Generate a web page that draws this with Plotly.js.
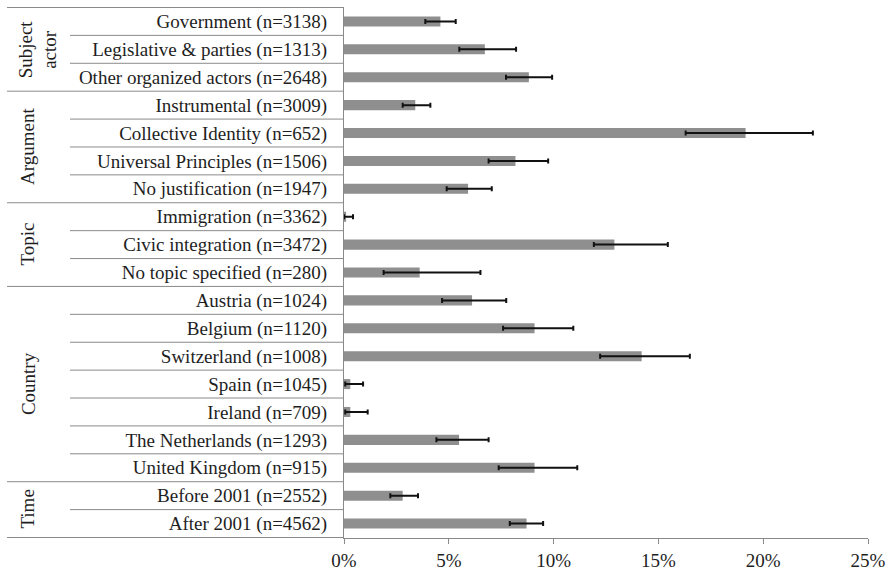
<!DOCTYPE html>
<html>
<head>
<meta charset="utf-8">
<script src="https://cdn.plot.ly/plotly-3.0.1.min.js"></script>
<style>html,body{margin:0;padding:0;background:#fff;}#chart{width:889px;height:573px;}</style>
</head>
<body>
<div id="chart"></div>
<script>
// ---- data ----
const categories = [
  "Government (n=3138)",
  "Legislative & parties (n=1313)",
  "Other organized actors (n=2648)",
  "Instrumental (n=3009)",
  "Collective Identity (n=652)",
  "Universal Principles (n=1506)",
  "No justification (n=1947)",
  "Immigration (n=3362)",
  "Civic integration (n=3472)",
  "No topic specified (n=280)",
  "Austria (n=1024)",
  "Belgium (n=1120)",
  "Switzerland (n=1008)",
  "Spain (n=1045)",
  "Ireland (n=709)",
  "The Netherlands (n=1293)",
  "United Kingdom (n=915)",
  "Before 2001 (n=2552)",
  "After 2001 (n=4562)"
];
const values = [4.6, 6.72, 8.82, 3.40, 19.16, 8.18, 5.92, 0.10, 12.90, 3.61, 6.11, 9.09, 14.20, 0.30, 0.30, 5.49, 9.09, 2.80, 8.71];
const ciLow  = [3.88, 5.50, 7.73, 2.80, 16.30, 6.90, 4.90, 0.00, 11.92, 1.89, 4.68, 7.59, 12.22, 0.06, 0.06, 4.41, 7.38, 2.21, 7.91];
const ciHigh = [5.33, 8.21, 9.93, 4.12, 22.37, 9.74, 7.05, 0.43, 15.45, 6.51, 7.74, 10.94, 16.50, 0.91, 1.13, 6.90, 11.13, 3.53, 9.50];
const groupNames = ["Subject<br>actor", "Argument", "Topic", "Country", "Time"];
const groupSizes = [3, 4, 3, 7, 2];
const tickVals = [0, 5, 10, 15, 20, 25];
const tickText = ["0%", "5%", "10%", "15%", "20%", "25%"];

// ---- layout helpers ----
const W = 889, H = 573;
const mL = 344, mR = 21, mT = 7, mB = 35;
const plotW = W - mL - mR;
const px2paper = p => (p - mL) / plotW;
const lineColor = "#8a8a8a";
const fontFam = "Liberation Serif, Times New Roman, serif";
const textColor = "#1e1e1e";

const errPlus = values.map((v, i) => ciHigh[i] - v);
const errMinus = values.map((v, i) => v - ciLow[i]);

const trace = {
  type: "bar",
  orientation: "h",
  x: values,
  y: categories,
  marker: {color: "#8f8f8f", line: {width: 0}},
  error_x: {
    type: "data", symmetric: false,
    array: errPlus, arrayminus: errMinus,
    color: "#111", thickness: 2, width: 2.5
  },
  hoverinfo: "skip"
};

// table lines
const shapes = [];
const n = categories.length;
const fullX0 = px2paper(7), innerX0 = px2paper(70);
let starts = new Set([0]);
let acc = 0;
groupSizes.forEach(s => { acc += s; starts.add(acc); });
for (let b = 0; b <= n; b++) {
  const isGroup = starts.has(b);
  shapes.push({
    type: "line", xref: "paper", yref: "y",
    x0: isGroup ? fullX0 : innerX0, x1: 0,
    y0: b - 0.5, y1: b - 0.5,
    line: {color: lineColor, width: 1}
  });
}

// group labels
const annotations = [];
acc = 0;
groupNames.forEach((g, k) => {
  const center = acc + groupSizes[k] / 2 - 0.5;
  acc += groupSizes[k];
  annotations.push({
    text: g, xref: "paper", yref: "y",
    x: px2paper(g.includes("<br>") ? 38 : 28), y: center,
    textangle: -90, showarrow: false,
    xanchor: "center", yanchor: "middle",
    font: {family: fontFam, size: 19, color: textColor}
  });
});

const layout = {
  width: W, height: H,
  margin: {l: mL, r: mR, t: mT, b: mB},
  paper_bgcolor: "#fff", plot_bgcolor: "#fff",
  showlegend: false,
  bargap: 0.64,
  font: {family: fontFam, size: 19, color: textColor},
  xaxis: {
    range: [0, 25], tickvals: tickVals, ticktext: tickText,
    showgrid: false, zeroline: false,
    showline: true, linecolor: lineColor, linewidth: 1,
    ticks: "outside", ticklen: 5, tickcolor: lineColor,
    tickfont: {family: fontFam, size: 19, color: textColor}
  },
  yaxis: {
    type: "category", autorange: "reversed",
    showgrid: false, zeroline: false,
    showline: true, linecolor: lineColor, linewidth: 1,
    ticks: "", ticklabelstandoff: 12,
    tickfont: {family: fontFam, size: 19, color: textColor}
  },
  shapes: shapes,
  annotations: annotations
};

Plotly.newPlot("chart", [trace], layout, {displayModeBar: false, staticPlot: true});
</script>
</body>
</html>
